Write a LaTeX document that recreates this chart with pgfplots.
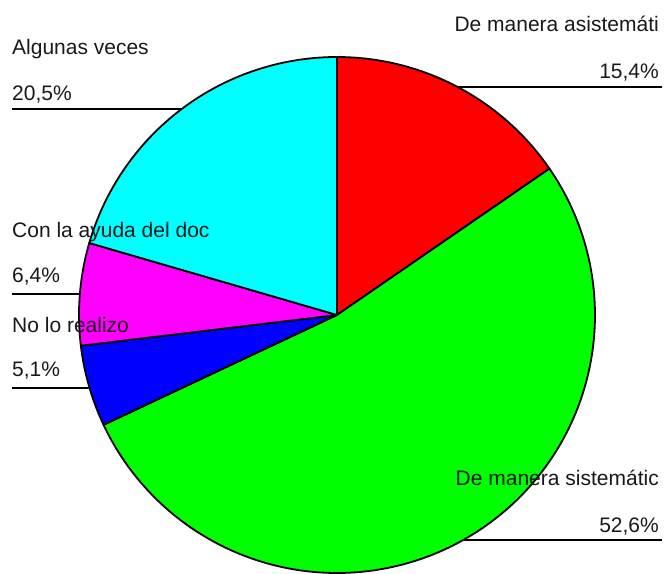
\documentclass[border=0pt]{standalone}
\usepackage{pgfplots}
\pgfplotsset{compat=1.18}
\usepackage{fontspec}
\setmainfont{Liberation Sans}
\definecolor{pRed}{RGB}{255,0,0}
\definecolor{pGreen}{RGB}{0,255,0}
\definecolor{pBlue}{RGB}{0,0,255}
\definecolor{pMag}{RGB}{255,0,255}
\definecolor{pCyan}{RGB}{0,255,255}
% shares in percent, clockwise from the top
\def\pA{15.4} % De manera asistematica
\def\pB{52.6} % De manera sistematica
\def\pC{5.1}  % No lo realizo
\def\pD{6.4}  % Con la ayuda del docente
\def\pE{20.5} % Algunas veces
\pgfmathsetmacro\aA{90}
\pgfmathsetmacro\aB{\aA-3.6*\pA}
\pgfmathsetmacro\aC{\aB-3.6*\pB}
\pgfmathsetmacro\aD{\aC-3.6*\pC}
\pgfmathsetmacro\aE{\aD-3.6*\pD}
\pgfmathsetmacro\aF{\aE-3.6*\pE}
\begin{document}
\begin{tikzpicture}
\begin{axis}[
  hide axis, scale only axis, width=665pt, height=570pt,
  xmin=0, xmax=665, ymin=0, ymax=570, clip=false,
  every axis plot/.append style={line width=1.8pt, line join=round},
]
\path (0,0) rectangle (665,570);
% leader lines
\addplot[black, line width=1.6pt] coordinates {(12,461) (200,461)};
\addplot[black, line width=1.6pt] coordinates {(420,483) (662,483)};
\addplot[black, line width=1.6pt] coordinates {(12,276) (130,276)};
\addplot[black, line width=1.6pt] coordinates {(12,182) (130,182)};
\addplot[black, line width=1.6pt] coordinates {(420,30) (662,30)};
% slices
\addplot[draw=black, fill=pRed, domain=\aB:\aA, samples=80] ({337+258*cos(x)},{255+258*sin(x)}) -- (337,255) -- cycle;
\addplot[draw=black, fill=pGreen, domain=\aC:\aB, samples=160] ({337+258*cos(x)},{255+258*sin(x)}) -- (337,255) -- cycle;
\addplot[draw=black, fill=pBlue, domain=\aD:\aC, samples=40] ({337+258*cos(x)},{255+258*sin(x)}) -- (337,255) -- cycle;
\addplot[draw=black, fill=pMag, domain=\aE:\aD, samples=40] ({337+258*cos(x)},{255+258*sin(x)}) -- (337,255) -- cycle;
\addplot[draw=black, fill=pCyan, domain=\aF:\aE, samples=80] ({337+258*cos(x)},{255+258*sin(x)}) -- (337,255) -- cycle;
% labels
\begin{scope}[every node/.style={font=\fontsize{21}{25}\selectfont, inner sep=0pt, text=black!90}]
\node[anchor=base west] at (12,515) {Algunas veces};
\node[anchor=base west] at (12,469) {20,5\%};
\node[anchor=base east] at (659,538) {De manera asistemáti};
\node[anchor=base east] at (659,491) {15,4\%};
\node[anchor=base west] at (12,332) {Con la ayuda del doc};
\node[anchor=base west] at (12,287) {6,4\%};
\node[anchor=base west] at (12,237) {No lo realizo};
\node[anchor=base west] at (12,194) {5,1\%};
\node[anchor=base east] at (659,85) {De manera sistemátic};
\node[anchor=base east] at (659,38) {52,6\%};
\end{scope}
\end{axis}
\end{tikzpicture}
\end{document}
